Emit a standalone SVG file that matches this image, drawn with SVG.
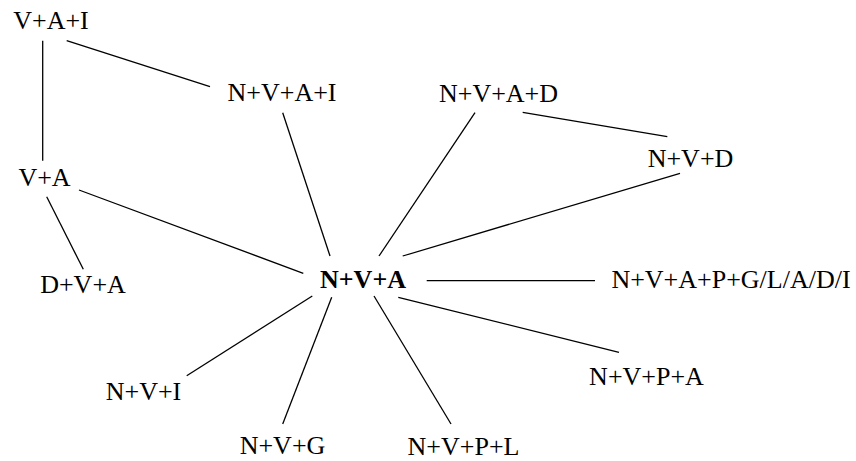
<svg xmlns="http://www.w3.org/2000/svg" width="856" height="461" viewBox="0 0 856 461">
<style>
.n text{font-family:"Liberation Serif","Times New Roman",serif;font-size:26px;fill:#000;text-anchor:middle}
.b{font-weight:bold}
#edges line{stroke:#000;stroke-width:1.3}
</style>
<rect width="856" height="461" fill="#fff"/>
<g id="edges">
<line x1="42.7" y1="40.7" x2="42.7" y2="160.7"/>
<line x1="66.7" y1="40.7" x2="210" y2="86.7"/>
<line x1="282.7" y1="112.7" x2="330" y2="256"/>
<line x1="79" y1="190" x2="303.3" y2="273.3"/>
<line x1="46.7" y1="196.7" x2="83.3" y2="269.3"/>
<line x1="475" y1="112.7" x2="379" y2="256"/>
<line x1="522.7" y1="112.3" x2="667.3" y2="136.7"/>
<line x1="680" y1="173.3" x2="402.7" y2="256"/>
<line x1="426.7" y1="280.7" x2="595" y2="280.7"/>
<line x1="398.3" y1="297.3" x2="619" y2="352.3"/>
<line x1="374" y1="296" x2="451" y2="424"/>
<line x1="331.7" y1="297.3" x2="282.7" y2="424"/>
<line x1="312.3" y1="296" x2="186.7" y2="375.7"/>
</g>
<g id="n-vai" class="n"><text x="51" y="29">V+A+I</text></g>
<g id="n-nvai" class="n"><text x="282" y="101">N+V+A+I</text></g>
<g id="n-va" class="n"><text x="44.5" y="186">V+A</text></g>
<g id="n-dva" class="n"><text x="83" y="293">D+V+A</text></g>
<g id="n-nva" class="n"><text class="b" x="363" y="288">N+V+A</text></g>
<g id="n-nvi" class="n"><text x="143.5" y="400">N+V+I</text></g>
<g id="n-nvg" class="n"><text x="282.5" y="454">N+V+G</text></g>
<g id="n-nvpl" class="n"><text x="463.5" y="455">N+V+P+L</text></g>
<g id="n-nvpa" class="n"><text x="646.5" y="385">N+V+P+A</text></g>
<g id="n-nvapg" class="n"><text x="731" y="288">N+V+A+P+G/L/A/D/I</text></g>
<g id="n-nvad" class="n"><text x="498.5" y="102">N+V+A+D</text></g>
<g id="n-nvd" class="n"><text x="690.5" y="167">N+V+D</text></g>
</svg>
